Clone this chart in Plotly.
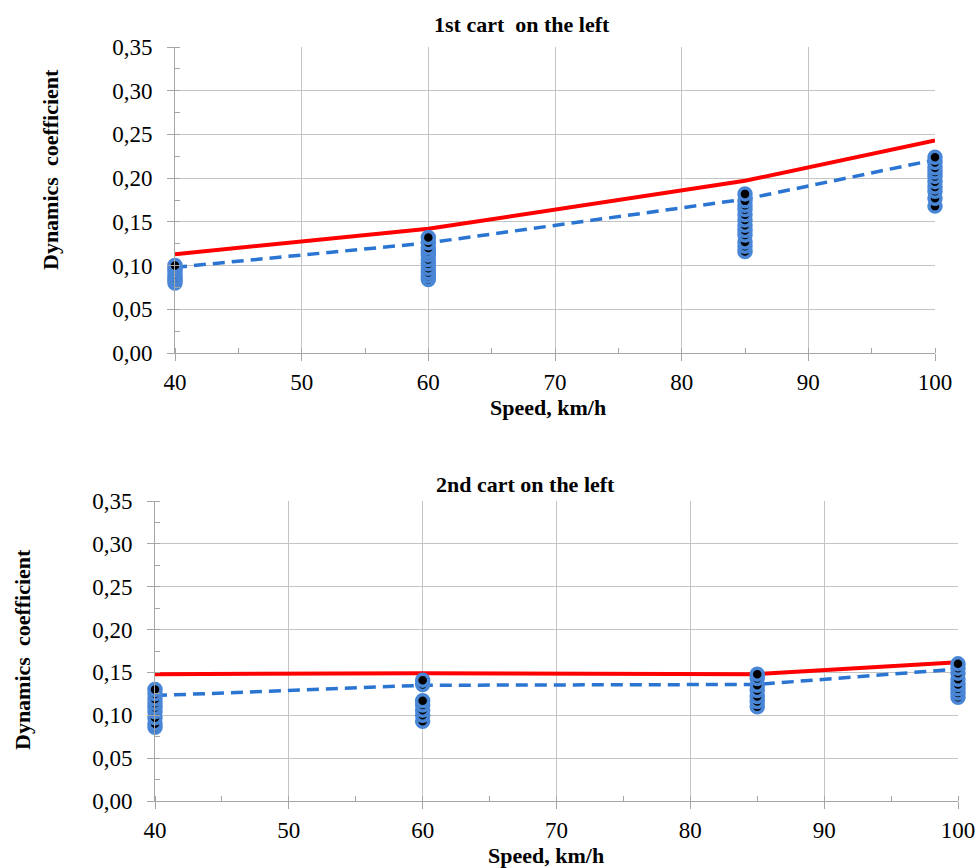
import plotly.graph_objects as go

# ---------------- data ----------------
speeds = [40, 60, 85, 100]

# 1st cart
top_limit = [0.113, 0.142, 0.197, 0.243]      # red solid line
top_mean = [0.098, 0.126, 0.176, 0.221]       # blue dashed line
top_pts_40 = [0.080, 0.083, 0.086, 0.090, 0.094, 0.097, 0.100]
top_pts_60 = [0.084, 0.088, 0.092, 0.097, 0.102, 0.107, 0.112, 0.116, 0.120, 0.126, 0.132]
top_pts_85 = [0.116, 0.122, 0.127, 0.135, 0.140, 0.146, 0.152, 0.158, 0.164, 0.169, 0.174, 0.182]
top_pts_100 = [0.168, 0.177, 0.185, 0.190, 0.196, 0.202, 0.207, 0.212, 0.218, 0.224]

# 2nd cart
bot_limit = [0.148, 0.149, 0.148, 0.162]
bot_mean = [0.123, 0.135, 0.136, 0.154]
bot_pts_40 = [0.086, 0.090, 0.097, 0.104, 0.109, 0.114, 0.119, 0.125, 0.130]
bot_pts_60 = [0.093, 0.100, 0.106, 0.112, 0.117, 0.136, 0.141]
bot_pts_85 = [0.110, 0.116, 0.122, 0.129, 0.135, 0.143, 0.148]
bot_pts_100 = [0.121, 0.126, 0.131, 0.136, 0.142, 0.149, 0.155, 0.160]

x_ticks = [40, 50, 60, 70, 80, 90, 100]
y_ticks = [0.0, 0.05, 0.10, 0.15, 0.20, 0.25, 0.30, 0.35]

title_top = "1st cart  on the left"
title_bot = "2nd cart on the left"
x_title = "Speed, km/h"
y_title = "Dynamics  coefficient"

# ---------------- styles ----------------
RED = "#ff0000"
BLUE_LINE = "#2a74d2"
BLUE_MK = "#4a86d6"
FONT = "Liberation Serif"

fig = go.Figure()


def add_panel(fig, xa, ya, limit, mean, pts_groups):
    fig.add_trace(go.Scatter(x=speeds, y=limit, mode="lines",
                             line=dict(color=RED, width=4),
                             xaxis=xa, yaxis=ya, showlegend=False,
                             cliponaxis=False))
    fig.add_trace(go.Scatter(x=speeds, y=mean, mode="lines",
                             line=dict(color=BLUE_LINE, width=3.5, dash="12px,7px"),
                             xaxis=xa, yaxis=ya, showlegend=False,
                             cliponaxis=False))
    for sp, vals in zip(speeds, pts_groups):
        vs = sorted(vals)
        fig.add_trace(go.Scatter(x=[sp] * len(vs), y=vs, mode="markers",
                                 marker=dict(size=12, color="black",
                                             line=dict(color=BLUE_MK, width=3.5)),
                                 xaxis=xa, yaxis=ya, showlegend=False,
                                 cliponaxis=False))


add_panel(fig, "x", "y", top_limit, top_mean,
          [top_pts_40, top_pts_60, top_pts_85, top_pts_100])
add_panel(fig, "x2", "y2", bot_limit, bot_mean,
          [bot_pts_40, bot_pts_60, bot_pts_85, bot_pts_100])

W, H = 979, 868


def px_x(p):
    return p / W


def px_y(p):
    return 1 - p / H


xaxis_common = dict(
    range=[40, 100], tickvals=x_ticks, showgrid=True, gridcolor="#c4c4c4",
    gridwidth=1, showline=True, linecolor="#a6a6a6", linewidth=1,
    ticks="outside", ticklen=7, tickcolor="#a6a6a6", zeroline=False,
    ticklabelstandoff=1, automargin=False,
    tickfont=dict(family=FONT, size=23, color="black"),
    minor=dict(dtick=5, tick0=45, ticks="inside", ticklen=5, tickcolor="#a6a6a6",
               showgrid=False),
)
yaxis_common = dict(
    range=[0, 0.35], tickvals=y_ticks, tickformat=".2f", showgrid=True,
    gridcolor="#c4c4c4", gridwidth=1, showline=True, linecolor="#a6a6a6",
    linewidth=1, ticks="outside", ticklen=7, tickcolor="#a6a6a6",
    zeroline=False, ticklabelstandoff=10, automargin=False,
    tickfont=dict(family=FONT, size=23, color="black"),
    minor=dict(dtick=0.025, tick0=0.025, ticks="inside", ticklen=5,
               tickcolor="#a6a6a6", showgrid=False),
)

fig.update_layout(
    template="none",
    width=W, height=H, autosize=False,
    margin=dict(l=0, r=0, t=0, b=0, pad=0),
    paper_bgcolor="white", plot_bgcolor="white",
    separators=", ",
    xaxis=dict(domain=[px_x(175), px_x(935)], anchor="y", **xaxis_common),
    yaxis=dict(domain=[px_y(353), px_y(47)], anchor="x", **yaxis_common),
    xaxis2=dict(domain=[px_x(155), px_x(958)], anchor="y2", **xaxis_common),
    yaxis2=dict(domain=[px_y(801), px_y(501)], anchor="x2", **yaxis_common),
)

ann_font = dict(family=FONT, size=22, color="black")
annots = [
    (522, 25, "<b>%s</b>" % title_top, 0),
    (525, 484, "<b>%s</b>" % title_bot, 0),
    (548, 408, "<b>%s</b>" % x_title, 0),
    (546, 855, "<b>%s</b>" % x_title, 0),
    (50, 170, "<b>%s</b>" % y_title, -90),
    (22, 650, "<b>%s</b>" % y_title, -90),
]
for xp, yp, txt, ang in annots:
    fig.add_annotation(x=px_x(xp), y=px_y(yp), xref="paper", yref="paper",
                       text=txt, showarrow=False, textangle=ang,
                       xanchor="center", yanchor="middle", font=ann_font)

fig.write_html("out.html")
